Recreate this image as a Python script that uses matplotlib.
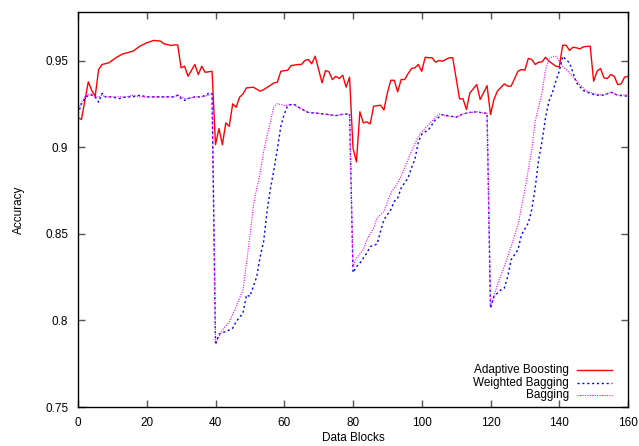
import matplotlib
matplotlib.use("Agg")
import matplotlib.pyplot as plt
from matplotlib.ticker import FixedLocator

plt.rcParams['font.family'] = ['Liberation Sans', 'DejaVu Sans']

# Adaptive Boosting
boost_x = [0, 1, 3, 4, 5, 6, 7, 9, 11, 13, 16, 18, 20, 22, 24, 25, 27, 28, 29, 30,
           31, 32, 34, 35, 36, 37, 39, 40, 41, 42, 43, 44, 45, 46, 47, 48, 49, 51, 53, 54,
           56, 57, 58, 59, 61, 62, 64, 65, 66, 67, 68, 69, 71, 72, 73, 74, 75, 76, 77, 78,
           79, 80, 81, 82, 83, 84, 85, 86, 88, 89, 90, 91, 92, 93, 94, 95, 96, 97, 98, 99,
           100, 101, 102, 103, 104, 105, 106, 108, 109, 111, 112, 113, 114, 116, 117, 119, 120, 121, 122, 124,
           125, 126, 128, 129, 130, 131, 132, 133, 134, 135, 136, 137, 139, 140, 141, 142, 143, 144, 145, 146,
           147, 149, 150, 151, 152, 153, 154, 155, 156, 157, 158, 159, 160]
boost_y = [0.917, 0.916, 0.9377, 0.9327, 0.9294, 0.9448, 0.9477, 0.9487, 0.9516, 0.9538, 0.9554, 0.9583, 0.9602, 0.9616, 0.9612, 0.9597, 0.9587, 0.959, 0.959, 0.9458,
           0.9467, 0.9409, 0.9477, 0.9419, 0.9467, 0.9432, 0.9438, 0.9014, 0.9107, 0.9014, 0.914, 0.912, 0.925, 0.923, 0.9288, 0.9307, 0.9342, 0.9346, 0.9323, 0.9332,
           0.9357, 0.9371, 0.9375, 0.9438, 0.9444, 0.9471, 0.9477, 0.9477, 0.95, 0.9506, 0.9481, 0.9525, 0.9371, 0.9442, 0.9435, 0.939, 0.9409, 0.9396, 0.9415, 0.9346,
           0.9404, 0.8995, 0.8915, 0.9204, 0.914, 0.9146, 0.9134, 0.9236, 0.9242, 0.9215, 0.9313, 0.9386, 0.9386, 0.9319, 0.939, 0.939, 0.9423, 0.9454, 0.9458, 0.9477,
           0.9438, 0.9519, 0.9516, 0.9516, 0.949, 0.95, 0.9496, 0.9516, 0.9516, 0.9279, 0.9279, 0.9217, 0.9313, 0.9361, 0.9275, 0.9355, 0.9188, 0.9275, 0.9323, 0.9365,
           0.9352, 0.9352, 0.9438, 0.9448, 0.9444, 0.9512, 0.9506, 0.9477, 0.949, 0.9492, 0.9519, 0.9496, 0.9467, 0.9463, 0.9588, 0.9588, 0.9558, 0.9577, 0.9573, 0.9567,
           0.9579, 0.9583, 0.938, 0.9438, 0.9454, 0.94, 0.9396, 0.9419, 0.9409, 0.9361, 0.9365, 0.9404, 0.9408]

# Weighted Bagging
wbag_x = [0, 1, 2, 3, 4, 5, 6, 7, 8, 10, 12, 14, 16, 18, 20, 22, 24, 26, 28, 29,
          30, 31, 32, 34, 36, 38, 39, 40, 41, 42, 43, 45, 46, 48, 49, 50, 52, 53, 54, 55,
          56, 57, 58, 59, 60, 61, 62, 63, 65, 67, 69, 72, 75, 77, 79, 80, 81, 82, 83, 84,
          85, 87, 88, 89, 91, 92, 93, 94, 96, 97, 98, 99, 100, 102, 104, 106, 108, 110, 112, 114,
          116, 118, 119, 120, 121, 123, 124, 125, 126, 128, 129, 131, 132, 133, 134, 135, 136, 137, 138, 139,
          140, 141, 142, 143, 144, 145, 147, 149, 151, 153, 155, 157, 159, 160]
wbag_y = [0.919, 0.925, 0.928, 0.930, 0.930, 0.929, 0.926, 0.931, 0.929, 0.929, 0.928, 0.929, 0.929, 0.930, 0.929, 0.929, 0.929, 0.929, 0.929, 0.930,
          0.928, 0.927, 0.928, 0.929, 0.929, 0.931, 0.931, 0.786, 0.792, 0.793, 0.7935, 0.7955, 0.7993, 0.8042, 0.8147, 0.8138, 0.8253, 0.8369, 0.8455, 0.8629,
          0.8764, 0.887, 0.899, 0.912, 0.919, 0.924, 0.9246, 0.9246, 0.922, 0.920, 0.9197, 0.919, 0.9182, 0.919, 0.9192, 0.8276, 0.831, 0.833, 0.8359, 0.8388,
          0.8426, 0.844, 0.8513, 0.8581, 0.8639, 0.8687, 0.8706, 0.8764, 0.8822, 0.888, 0.8928, 0.903, 0.9075, 0.9101, 0.9159, 0.9188, 0.918, 0.9173, 0.9192, 0.920,
          0.9204, 0.9196, 0.9196, 0.807, 0.8138, 0.8176, 0.8186, 0.8253, 0.835, 0.8408, 0.8494, 0.8562, 0.8639, 0.8764, 0.8928, 0.9035, 0.9169, 0.9265, 0.9313, 0.938,
          0.9438, 0.9524, 0.9505, 0.9486, 0.943, 0.9371, 0.9327, 0.931, 0.930, 0.930, 0.9317, 0.930, 0.9295, 0.9295]

# Bagging
bag_x = [0, 1, 2, 3, 4, 5, 6, 7, 8, 10, 12, 14, 16, 18, 20, 22, 24, 26, 28, 29,
         30, 31, 32, 34, 36, 38, 39, 40, 42, 44, 46, 48, 49, 50, 51, 52, 53, 54, 56, 57,
         58, 59, 60, 62, 63, 65, 67, 69, 72, 75, 77, 79, 80, 81, 83, 84, 86, 87, 89, 91,
         93, 95, 97, 99, 101, 103, 105, 107, 110, 112, 114, 116, 118, 119, 120, 121, 122, 124, 126, 128,
         130, 132, 133, 135, 136, 137, 138, 139, 141, 143, 146, 148, 151, 153, 155, 157, 159, 160]
bag_y = [0.921, 0.926, 0.929, 0.930, 0.931, 0.929, 0.929, 0.930, 0.929, 0.929, 0.929, 0.929, 0.930, 0.929, 0.929, 0.929, 0.929, 0.929, 0.929, 0.930,
         0.929, 0.928, 0.928, 0.929, 0.929, 0.930, 0.931, 0.787, 0.7945, 0.7993, 0.808, 0.8176, 0.833, 0.8484, 0.8658, 0.8764, 0.885, 0.8976, 0.915, 0.9236,
         0.9251, 0.9246, 0.924, 0.9246, 0.9242, 0.922, 0.920, 0.9197, 0.919, 0.9182, 0.919, 0.919, 0.831, 0.8359, 0.8408, 0.8465, 0.8533, 0.8591, 0.8629, 0.8735,
         0.8793, 0.888, 0.8976, 0.9062, 0.911, 0.915, 0.9192, 0.918, 0.9173, 0.9192, 0.920, 0.9204, 0.9196, 0.9196, 0.8085, 0.8138, 0.8205, 0.8311, 0.8426, 0.8552,
         0.8754, 0.8986, 0.915, 0.9313, 0.9448, 0.9506, 0.9524, 0.9524, 0.9467, 0.9429, 0.9361, 0.9323, 0.9304, 0.930, 0.9317, 0.930, 0.9301, 0.9301]

labels = ["Adaptive Boosting", "Weighted Bagging", "Bagging"]
x_ticks = [0, 20, 40, 60, 80, 100, 120, 140, 160]
y_ticks = [0.75, 0.8, 0.85, 0.9, 0.95]
y_tick_labels = ["0.75", "0.8", "0.85", "0.9", "0.95"]

fig = plt.figure(figsize=(6.39, 4.46), dpi=100)
ax = fig.add_axes([78 / 639, 1 - 407 / 446, 550 / 639, 395 / 446])

styles = [
    dict(color="#ff0000", lw=1.0, ls="-"),
    dict(color="#0000ff", lw=1.0, ls=(0, (1.5, 2))),
    dict(color="#ff00ff", lw=0.8, ls=(0, (1, 1.2))),
]
series = [(boost_x, boost_y), (wbag_x, wbag_y), (bag_x, bag_y)]
for (xs, ys), st in zip(series, styles):
    ax.plot(xs, ys, **st)

ax.set_xlim(0, 160)
ax.set_ylim(0.75, 0.978)
ax.xaxis.set_major_locator(FixedLocator(x_ticks))
ax.set_yticks(y_ticks)
ax.set_yticklabels(y_tick_labels)
ax.tick_params(direction="in", length=5, width=1, top=True, right=True,
               labelsize=8.5, pad=7, color="#555555")
for sp in ax.spines.values():
    sp.set_linewidth(1.0)

ax.set_xlabel("Data Blocks", fontsize=8.5)
ax.set_ylabel("Accuracy", fontsize=8.5)
ax.xaxis.set_label_coords(0.5, -0.063)
ax.yaxis.set_label_coords(-0.096, 0.5)

# gnuplot style key: right aligned text, line sample on the right
rows = [0.0937, 0.0608, 0.0316]
for lab, st, yy in zip(labels, styles, rows):
    ax.text(0.8927, yy, lab, transform=ax.transAxes, ha="right", va="center", fontsize=8.5)
    ax.plot([0.9073, 0.9709], [yy, yy], transform=ax.transAxes, **st)

fig.savefig("out.png", dpi=100)
